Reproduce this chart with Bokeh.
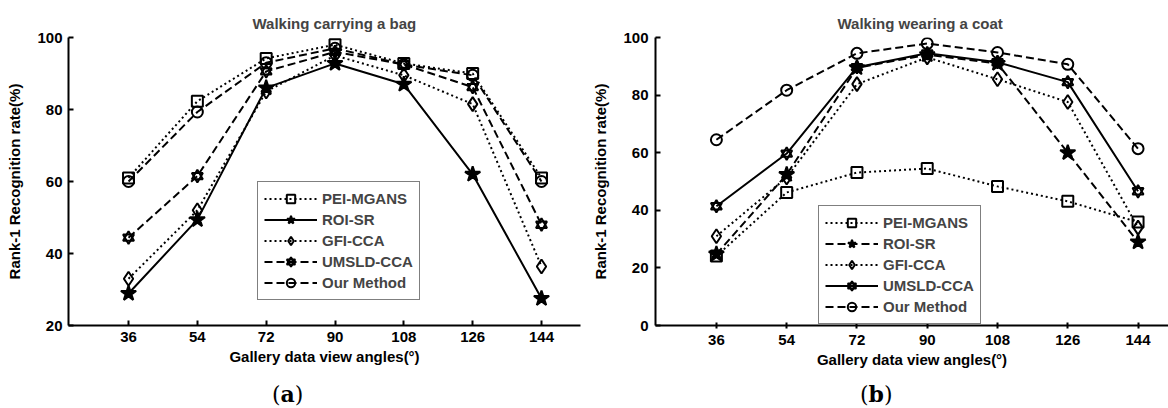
from bokeh.plotting import figure
from bokeh.models import Range1d, Legend, LegendItem, FixedTicker, Div
from bokeh.layouts import row, column
from bokeh.embed import file_html
from bokeh.resources import INLINE

angles = [36, 54, 72, 90, 108, 126, 144]
methods = ["PEI-MGANS", "ROI-SR", "GFI-CCA", "UMSLD-CCA", "Our Method"]

# (a) Walking carrying a bag
bag_pei = [61.0, 82.3, 94.2, 98.0, 92.8, 90.0, 61.0]
bag_roi = [28.9, 49.4, 86.0, 92.8, 87.0, 62.0, 27.5]
bag_gfi = [33.0, 52.0, 85.0, 95.0, 89.5, 81.5, 36.4]
bag_umsld = [44.4, 61.5, 90.6, 96.0, 92.5, 86.2, 48.0]
bag_ours = [60.0, 79.3, 93.0, 97.0, 92.5, 89.5, 60.0]

# (b) Walking wearing a coat
coat_pei = [24.1, 46.2, 53.1, 54.5, 48.3, 43.1, 35.9]
coat_roi = [24.8, 52.4, 89.5, 94.0, 91.0, 60.0, 29.0]
coat_gfi = [31.0, 51.4, 83.8, 93.1, 85.5, 77.6, 34.0]
coat_umsld = [41.4, 59.7, 89.7, 94.5, 91.4, 84.5, 46.6]
coat_ours = [64.5, 81.7, 94.5, 97.9, 94.8, 90.7, 61.4]

FONT = "Liberation Sans"
SERIF = "DejaVu Serif"
DOT = "2 3"
DASH = "8 4"
FIG_H = 372


def make_fig(title, series, styles, xr, yr, yticks, borders, legend_loc,
             title_offset, tick_in_out, ylab_standoff, ytick_standoff):
    bl, br, bt, bb = borders
    p = figure(width=584, height=FIG_H, output_backend="svg", toolbar_location=None,
               x_range=Range1d(*xr), y_range=Range1d(*yr),
               min_border_left=bl, min_border_right=br, min_border_top=bt, min_border_bottom=bb)
    p.title.text = title
    p.title.text_font = FONT
    p.title.text_font_size = "15px"
    p.title.text_font_style = "bold"
    p.title.align = "left"
    p.title.offset = title_offset
    p.title.standoff = 12
    p.outline_line_color = None
    p.xgrid.visible = False
    p.ygrid.visible = False
    for ax in (p.xaxis[0], p.yaxis[0]):
        ax.axis_line_width = 2
        ax.axis_line_color = "black"
        ax.major_tick_line_width = 2
        ax.major_tick_line_color = "black"
        ax.minor_tick_line_color = None
        ax.major_label_text_font = FONT
        ax.major_label_text_font_size = "15px"
        ax.major_label_text_font_style = "bold"
        ax.major_label_text_color = "black"
        ax.axis_label_text_font = FONT
        ax.axis_label_text_font_size = "15px"
        ax.axis_label_text_font_style = "bold"
        ax.axis_label_text_color = "black"
    p.xaxis.ticker = FixedTicker(ticks=angles)
    p.yaxis.ticker = FixedTicker(ticks=yticks)
    p.xaxis.major_tick_in = tick_in_out[0]
    p.xaxis.major_tick_out = tick_in_out[1]
    p.yaxis.major_tick_in = 5
    p.yaxis.major_tick_out = 0
    p.xaxis.major_label_standoff = 6
    p.yaxis.major_label_standoff = ytick_standoff
    p.xaxis.axis_label = "Gallery data view angles(°)"
    p.yaxis.axis_label = "Rank-1 Recognition rate(%)"
    p.xaxis.axis_label_standoff = 3
    p.yaxis.axis_label_standoff = ylab_standoff

    items = []
    for name, vals, (dash, marker, msize, mfill) in zip(methods, series, styles):
        ln = p.line(angles, vals, line_color="black", line_width=2, line_dash=dash)
        rends = [ln]
        if marker == "hexagram":
            for m in ("triangle", "inverted_triangle"):
                r = p.scatter(angles, vals, marker=m, size=msize, line_color="black",
                              line_width=2, fill_color=None)
                rends.append(r)
        else:
            r = p.scatter(angles, vals, marker=marker, size=msize, line_color="black",
                          line_width=2, fill_color=mfill)
            rends.append(r)
        items.append(LegendItem(label=name, renderers=rends))

    leg = Legend(items=items, location=legend_loc)
    leg.label_text_font = FONT
    leg.label_text_font_size = "15px"
    leg.label_text_font_style = "bold"
    leg.border_line_color = "black"
    leg.border_line_width = 1
    leg.background_fill_color = "white"
    leg.background_fill_alpha = 1
    leg.glyph_width = 53
    leg.glyph_height = 21
    leg.label_height = 21
    leg.label_standoff = 5
    leg.spacing = 0
    leg.padding = 6
    leg.margin = 0
    p.add_layout(leg, "center")
    return p


styles_a = [(DOT, "square", 11, None), ("solid", "star", 16, "black"), (DOT, "diamond", 14, None),
            (DASH, "hexagram", 11, None), (DASH, "circle", 11, None)]
styles_b = [(DOT, "square", 11, None), (DASH, "star", 16, "black"), (DOT, "diamond", 14, None),
            ("solid", "hexagram", 11, None), (DASH, "circle", 11, None)]

p1 = make_fig("Walking carrying a bag", [bag_pei, bag_roi, bag_gfi, bag_umsld, bag_ours], styles_a,
              (20.3, 154.2), (20, 100), [20, 40, 60, 80, 100], (68, 4, 36, FIG_H - 325), (189, 25),
              184, (5, 0), 11, 6)
p2 = make_fig("Walking wearing a coat", [coat_pei, coat_roi, coat_gfi, coat_umsld, coat_ours], styles_b,
              (20.4, 151.8), (0, 100), [0, 20, 40, 60, 80, 100], (71, 0, 37, FIG_H - 327), (163, 1),
              182, (3, 3), 11, 7)

span = ('<span style="position:absolute;left:%dpx;top:9px;font-family:\'' + SERIF + '\';'
        'font-size:22px;line-height:26px;color:black;white-space:nowrap;">(<b>%s</b>)</span>')
cap_html = ('<div style="position:relative;width:1168px;height:%dpx;">' % (408 - FIG_H)
            + span % (272, "a") + span % (860, "b") + '</div>')
captions = Div(text=cap_html, width=1168, height=408 - FIG_H, margin=0)

layout = column(row(p1, p2), captions)
open("out.html", "w").write(file_html(layout, INLINE))
